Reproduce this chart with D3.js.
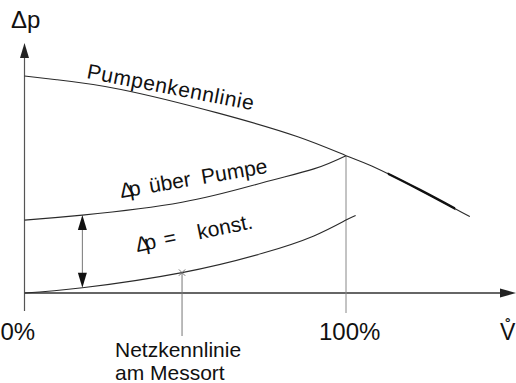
<!DOCTYPE html>
<html>
<head>
<meta charset="utf-8">
<script src="https://cdn.jsdelivr.net/npm/d3@7"></script>
<style>
  html, body { margin: 0; padding: 0; background: #fff; }
  svg { display: block; }
  text { font-family: "Liberation Sans", Arial, sans-serif; fill: #111; }
</style>
</head>
<body>
<svg id="chart" width="516" height="383"></svg>
<script>
// Flow in % of nominal flow, pressure difference in % of pump shut-off head
const pumpFlow = [0, 10, 30, 60, 85, 100, 108, 123, 138.5];
const pumpDp   = [100, 98.3, 93.8, 83.0, 72.0, 63.3, 58.5, 47.5, 35.2];

const pumpSysFlow = [0, 18, 49, 74, 90, 100];
const pumpSysDp   = [33.6, 35.9, 41.8, 50.8, 57.2, 63.3];

const netFlow = [0, 18, 49, 74, 90, 100, 103];
const netDp   = [0, 2.4, 9.4, 18.3, 26.3, 33.6, 35.7];

const xTickValues = [0, 100];
const xTickLabels = ["0%", "100%"];

const operatingFlow = 100;   // design point
const measureFlow = 49;      // measuring point on the network curve
const constFlow = 18;        // where the constant Δp is marked
const steepRange = [113, 134];

const svg = d3.select("#chart");
const x = d3.scaleLinear().domain([0, 100]).range([24.5, 346]);
const y = d3.scaleLinear().domain([0, 100]).range([293, 76]);

const zip = (fs, ps) => fs.map((f, i) => ({ f, p: ps[i] }));
const pump = zip(pumpFlow, pumpDp);
const pumpSys = zip(pumpSysFlow, pumpSysDp);
const net = zip(netFlow, netDp);

const line = d3.line().x(d => x(d.f)).y(d => y(d.p)).curve(d3.curveNatural);
const dpAt = (arr, f) => arr.find(d => d.f === f).p;

// axes
const axisColor = "#222";
svg.append("line").attr("x1", x(0)).attr("x2", 502).attr("y1", y(0)).attr("y2", y(0))
  .attr("stroke", "#333").attr("stroke-width", 1.3);
svg.append("path").attr("d", `M516,${y(0)} L500,${y(0) - 4.5} L500,${y(0) + 4.5} Z`).attr("fill", axisColor);

svg.append("line").attr("x1", x(0)).attr("x2", x(0)).attr("y1", y(0) + 18).attr("y2", 55)
  .attr("stroke", "#555").attr("stroke-width", 1.2);
svg.append("path").attr("d", `M${x(0)},43 L${x(0) - 4.5},58 L${x(0) + 4.5},58 Z`).attr("fill", axisColor);

// vertical helper line at the design point
svg.append("line")
  .attr("x1", x(operatingFlow)).attr("x2", x(operatingFlow))
  .attr("y1", y(dpAt(pump, operatingFlow))).attr("y2", y(0) + 20)
  .attr("stroke", "#888").attr("stroke-width", 1);

// curves
const curves = svg.append("g").attr("fill", "none").attr("stroke", "#2a2a2a").attr("stroke-width", 1.1);
curves.append("path").attr("d", line(pump));
curves.append("path").attr("d", line(pumpSys));
curves.append("path").attr("d", line(net));

// steeper, heavier stretch of the pump curve
svg.append("clipPath").attr("id", "steep").append("rect")
  .attr("x", x(steepRange[0])).attr("width", x(steepRange[1]) - x(steepRange[0]))
  .attr("y", 0).attr("height", 383);
svg.append("path").attr("d", line(pump)).attr("clip-path", "url(#steep)")
  .attr("fill", "none").attr("stroke", "#111").attr("stroke-width", 2.4);

// constant Δp double arrow
const ax = x(constFlow);
const yTop = y(dpAt(pumpSys, constFlow));
const yBot = y(dpAt(net, constFlow));
svg.append("line").attr("x1", ax).attr("x2", ax).attr("y1", yTop + 10).attr("y2", yBot - 10)
  .attr("stroke", "#777").attr("stroke-width", 1);
svg.append("path").attr("d", `M${ax},${yTop} L${ax - 4.5},${yTop + 15} L${ax + 4.5},${yTop + 15} Z`).attr("fill", "#111");
svg.append("path").attr("d", `M${ax},${yBot} L${ax - 4.5},${yBot - 15} L${ax + 4.5},${yBot - 15} Z`).attr("fill", "#111");

// measuring point and leader line
const mx = x(measureFlow), my = y(dpAt(net, measureFlow));
svg.append("line").attr("x1", mx).attr("x2", mx).attr("y1", my).attr("y2", 336)
  .attr("stroke", "#777").attr("stroke-width", 1);
svg.append("path").attr("d", d3.symbol(d3.symbolTimes, 28)())
  .attr("transform", `translate(${mx},${my})`)
  .attr("fill", "none").attr("stroke", "#666").attr("stroke-width", 0.9);

// axis labels
svg.append("text").attr("x", 11).attr("y", 28).attr("font-size", 24).text("Δp");
svg.selectAll(".tick-label").data(xTickValues).join("text")
  .attr("class", "tick-label")
  .attr("x", (d, i) => x(d) + (i === 0 ? -24 : -27))
  .attr("y", 340).attr("font-size", 24)
  .text((d, i) => xTickLabels[i]);
svg.append("text").attr("x", 500).attr("y", 340).attr("font-size", 23).text("V\u030A");

svg.append("text").attr("x", 115).attr("y", 357).attr("font-size", 21).text("Netzkennlinie");
svg.append("text").attr("x", 115).attr("y", 380).attr("font-size", 21).text("am Messort");

// curve labels
svg.append("text").attr("transform", "translate(86,78) rotate(11)")
  .attr("font-size", 21).attr("letter-spacing", 0.6).text("Pumpenkennlinie");

const t1 = svg.append("text").attr("transform", "translate(121,198) rotate(-9.7)").attr("font-size", 21);
t1.append("tspan").text("Δ");
t1.append("tspan").attr("dx", -5).text("p");
t1.append("tspan").attr("dx", 9).text("über");
t1.append("tspan").attr("dx", 11).text("Pumpe");

const t2 = svg.append("text").attr("transform", "translate(137,252) rotate(-11.5)").attr("font-size", 21);
t2.append("tspan").text("Δ");
t2.append("tspan").attr("dx", -5).text("p");
t2.append("tspan").attr("dx", 8).text("=");
t2.append("tspan").attr("dx", 22).text("konst.");
</script>
</body>
</html>
